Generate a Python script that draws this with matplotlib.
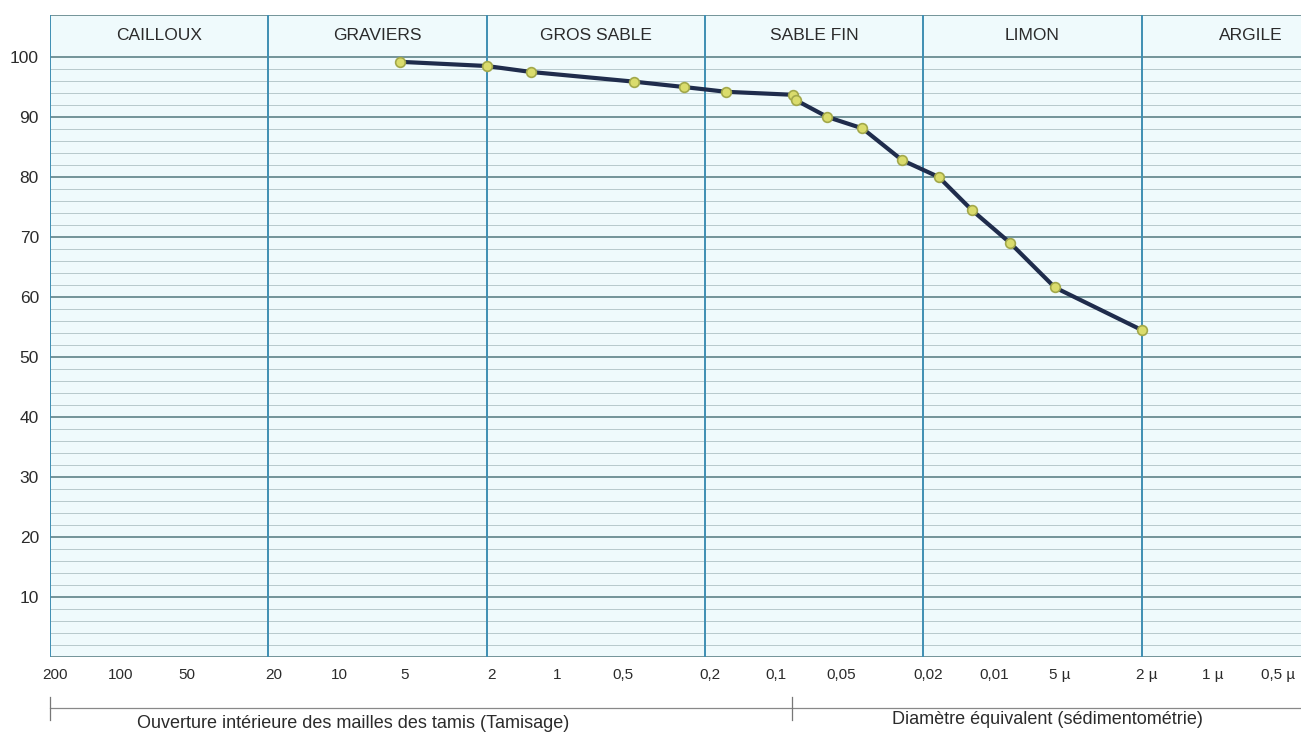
import matplotlib
matplotlib.use("Agg")
import matplotlib.pyplot as plt
import matplotlib.transforms as mtransforms
import numpy as np

plt.rcParams['font.family'] = ['Liberation Sans', 'DejaVu Sans']

# ---- data ----
diam_mm = [5, 2, 1.25, 0.425, 0.25, 0.16, 0.079, 0.0766, 0.055, 0.038,
           0.025, 0.017, 0.012, 0.008, 0.005, 0.002]
passing = [99.2, 98.5, 97.5, 95.9, 95.0, 94.2, 93.7, 92.8, 90.0, 88.1,
           82.8, 80.0, 74.5, 69.0, 61.6, 54.5]

tick_vals = [200, 100, 50, 20, 10, 5, 2, 1, 0.5, 0.2, 0.1, 0.05, 0.02,
             0.01, 0.005, 0.002, 0.001, 0.0005]
tick_labels = ["200", "100", "50", "20", "10", "5", "2", "1", "0,5", "0,2",
               "0,1", "0,05", "0,02", "0,01", "5 µ", "2 µ", "1 µ", "0,5 µ"]

class_bounds = [200, 20, 2, 0.2, 0.02, 0.002, 0.0002]
class_names = ["CAILLOUX", "GRAVIERS", "GROS SABLE", "SABLE FIN", "LIMON", "ARGILE"]

sieve_limit = 0.08
y_ticks = list(range(10, 101, 10))

# ---- figure ----
W, H = 1301, 734
fig = plt.figure(figsize=(W / 100, H / 100), dpi=100)
fig.patch.set_facecolor('white')

left_px, right_px, top_px, bottom_px = 50, 1360, 15, 657
ax = fig.add_axes([left_px / W, (H - bottom_px) / H,
                   (right_px - left_px) / W, (bottom_px - top_px) / H])
ax.set_facecolor('#effafc')
ax.set_xscale('log')
ax.set_xlim(class_bounds[0], class_bounds[-1])
ax.set_ylim(0, 107)

for s in ax.spines.values():
    s.set_visible(False)

txt_col = '#2b2b2b'

# horizontal grid
for v in np.arange(2, 100, 2):
    if v % 10 != 0:
        ax.axhline(v, color='#b7c9cc', lw=0.7, zorder=1)
for v in y_ticks:
    ax.axhline(v, color='#5e8388', lw=1.2, zorder=1.5)
ax.axhline(0, color='#5e8388', lw=1.2, zorder=1.5)
ax.axhline(107, color='#5e8388', lw=1.2, zorder=1.5)

# vertical class boundaries
for b in class_bounds:
    ax.axvline(b, color='#3f8fb3', lw=1.4, zorder=2)

# class names in header band
for i, name in enumerate(class_names):
    xc = np.sqrt(class_bounds[i] * class_bounds[i + 1])
    ax.text(xc, 103.6, name, ha='center', va='center', fontsize=12.5,
            color=txt_col, zorder=3)

# curve
ax.plot(diam_mm, passing, color='#1f2c4c', lw=3, zorder=4,
        solid_capstyle='round', solid_joinstyle='round')
ax.plot(diam_mm, passing, 'o', ms=7, mfc='#dadc6c', mec='#a2a84a',
        mew=1.2, zorder=5)

# ticks
ax.set_yticks(y_ticks)
ax.set_yticklabels([str(v) for v in y_ticks], fontsize=12.5, color=txt_col)
ax.set_xticks(tick_vals)
ax.set_xticklabels(tick_labels, fontsize=11, color=txt_col)
ax.xaxis.set_minor_locator(matplotlib.ticker.NullLocator())
ax.tick_params(axis='both', length=0)
ax.tick_params(axis='y', pad=8)
ax.tick_params(axis='x', pad=8)
off = mtransforms.ScaledTranslation(5 / 100, 0, fig.dpi_scale_trans)
for lab in ax.get_xticklabels():
    lab.set_transform(lab.get_transform() + off)

# bottom bracket
trans = mtransforms.blended_transform_factory(ax.transData, ax.transAxes)
yl = (bottom_px - 708) / (bottom_px - top_px)
ax.plot([class_bounds[0], class_bounds[-1]], [yl, yl], transform=trans,
        color='#888888', lw=0.9, clip_on=False)
for xv in [class_bounds[0], sieve_limit]:
    ax.plot([xv, xv], [(bottom_px - 697) / (bottom_px - top_px),
                       (bottom_px - 720) / (bottom_px - top_px)],
            transform=trans, color='#777777', lw=0.9, clip_on=False)

fig.text(353 / W, (H - 724) / H, "Ouverture intérieure des mailles des tamis (Tamisage)",
         ha='center', va='center', fontsize=13, color=txt_col)
fig.text(1047 / W, (H - 719) / H, "Diamètre équivalent (sédimentométrie)",
         ha='center', va='center', fontsize=13, color=txt_col)

fig.savefig("out.png", dpi=100, facecolor='white')
